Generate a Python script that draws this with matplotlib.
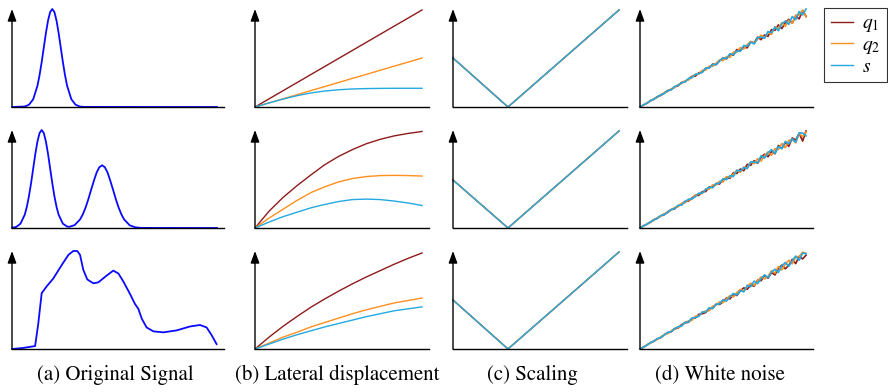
import matplotlib.pyplot as plt

plt.rcParams['font.family'] = ['STIXGeneral', 'Liberation Serif', 'DejaVu Serif']
plt.rcParams['mathtext.fontset'] = 'stix'

captions = ['(a) Original Signal', '(b) Lateral displacement', '(c) Scaling', '(d) White noise']
series_names = ['$q_1$', '$q_2$', '$s$']
series_colors = ['#8e1b1b', '#ff8f1f', '#22a9e1']
signal_color = '#0a0aff'

# (a) original signals
sig1_x = [0, 6, 8, 10, 12, 13, 14, 15, 16, 17, 18, 19, 20, 21, 22, 23, 24, 25, 26, 28, 30, 32, 34, 96.7]
sig1_y = [0, .005, .023, .079, .216, .325, .458, .607, .755, .882, .969, 1.0, .969, .882, .755, .607,
          .458, .325, .216, .079, .023, .005, .001, 0]

sig2_x = [0, 2, 4, 6, 7, 8, 9, 10, 11, 12, 13, 14, 15, 16, 17, 18, 19, 20, 21, 22, 24, 26, 27,
          29.5, 32.1, 33.4, 34.7, 36, 37.3, 38.6, 39.9, 41.2, 42.5, 43.8, 45.1, 46.4, 47.7, 49,
          50.3, 51.6, 52.9, 55.5, 58.1, 61, 96.7]
sig2_y = [.002, .011, .044, .135, .216, .325, .458, .607, .755, .882, .969, 1.0, .969, .882, .755,
          .607, .458, .325, .216, .135, .044, .015, .012, .029, .087, .139, .208, .293, .388, .48,
          .565, .62, .64, .62, .565, .48, .388, .293, .208, .139, .087, .028, .007, .001, 0]

sig3_x = [0, 5, 10.9, 12.4, 14, 16.4, 19.5, 23.4, 26.6, 28.9, 30.8, 32.1, 33.6, 35.5, 38.4, 40.7,
          44.7, 47.8, 50.2, 52.5, 55.7, 58, 59.6, 61.2, 63.5, 66.7, 71.4, 77.7, 84, 88.7, 91.8,
          94.2, 96.5]
sig3_y = [0, .01, .03, .26, .57, .64, .72, .855, .96, 1.0, 1.0, .96, .81, .71, .67, .68, .75, .80,
          .77, .69, .56, .46, .41, .31, .22, .18, .17, .19, .23, .245, .22, .14, .05]

# (b) lateral displacement
disp_x = [0, 8, 16, 24, 32, 40, 48, 56, 64, 72, 80, 88, 96]
disp1_q1 = [0, .0825, .165, .2475, .33, .4125, .495, .5775, .66, .7425, .825, .9075, .99]
disp1_q2 = [0, .042, .083, .125, .167, .208, .25, .292, .333, .375, .417, .458, .50]
disp1_s = [0, .041, .080, .115, .143, .163, .176, .184, .188, .190, .191, .191, .191]
disp2_q1 = [0, .17, .31, .43, .54, .645, .73, .80, .86, .905, .94, .965, .985]
disp2_q2 = [0, .10, .19, .28, .36, .42, .47, .505, .525, .535, .537, .535, .53]
disp2_s = [0, .06, .115, .16, .205, .24, .27, .29, .295, .29, .275, .255, .23]
disp3_q1 = [0, .12, .23, .33, .425, .51, .59, .665, .735, .80, .865, .925, .98]
disp3_q2 = [0, .06, .12, .17, .225, .27, .315, .36, .40, .435, .47, .495, .52]
disp3_s = [0, .05, .10, .145, .185, .225, .26, .295, .33, .36, .39, .41, .43]

# (c) scaling (q1, q2 and s coincide)
scale_x = [0, 31.6, 95.4]
scale1_y = [.50, 0, .99]
scale2_y = [.49, 0, .99]
scale3_y = [.50, 0, .99]

# (d) white noise
noise_x = list(range(0, 97, 2))
noise1_q1 = [0, .021, .038, .064, .080, .105, .117, .143, .168, .177, .205, .216, .250, .259, .285, .313,
             .315, .349, .354, .396, .400, .438, .432, .471, .501, .491, .535, .529, .586, .578, .610,
             .604, .664, .655, .713, .687, .735, .721, .790, .782, .838, .800, .860, .895, .855, .927,
             .899, .985, .925]
noise1_q2 = [0, .019, .042, .059, .084, .098, .123, .146, .158, .186, .197, .229, .239, .269, .275, .307,
             .332, .336, .375, .378, .417, .414, .448, .480, .473, .514, .507, .561, .560, .607, .592,
             .636, .670, .649, .693, .734, .705, .761, .740, .818, .798, .861, .824, .887, .853, .939,
             .939, .989, .920]
noise1_s = [0, .021, .039, .064, .078, .103, .126, .137, .165, .176, .209, .220, .247, .255, .289, .299,
            .334, .340, .355, .397, .398, .436, .432, .473, .499, .495, .543, .533, .572, .568, .628,
            .620, .662, .643, .707, .715, .701, .771, .756, .816, .778, .848, .878, .843, .923, .891,
            .974, .939, 1.0]
noise2_q1 = [0, .022, .039, .058, .085, .099, .125, .135, .165, .187, .195, .228, .238, .272, .275, .305,
             .334, .333, .371, .372, .419, .418, .454, .449, .497, .511, .507, .565, .556, .602, .584,
             .650, .640, .687, .661, .721, .753, .727, .778, .758, .842, .812, .872, .833, .919, .897,
             .967, .887, .990]
noise2_q2 = [0, .019, .042, .062, .077, .106, .119, .147, .157, .184, .210, .216, .252, .258, .287, .293,
             .335, .349, .352, .398, .396, .440, .440, .477, .469, .525, .517, .551, .588, .568, .622,
             .612, .672, .657, .707, .683, .739, .777, .742, .810, .800, .862, .818, .895, .901, .869,
             .965, .931, .980]
noise2_s = [0, .021, .038, .063, .083, .097, .127, .138, .158, .189, .200, .230, .234, .267, .293, .297,
            .319, .356, .356, .394, .416, .410, .452, .459, .503, .493, .535, .525, .590, .582, .618,
            .606, .674, .673, .665, .737, .713, .767, .800, .760, .832, .808, .884, .859, .911, .875,
            .971, .969, .940]
noise3_q1 = [0, .018, .041, .064, .078, .103, .116, .145, .166, .176, .205, .214, .248, .266, .273, .311,
             .317, .354, .360, .372, .414, .416, .458, .455, .481, .521, .511, .555, .546, .594, .624,
             .610, .652, .641, .703, .697, .751, .721, .780, .756, .822, .856, .818, .855, .915, .871,
             .947, .919, .958]
noise3_q2 = [0, .021, .041, .059, .085, .098, .124, .147, .157, .184, .210, .218, .236, .273, .285, .293,
             .335, .338, .377, .386, .390, .438, .448, .481, .473, .511, .545, .531, .576, .608, .590,
             .638, .672, .649, .695, .735, .715, .741, .798, .774, .842, .806, .866, .905, .869, .937,
             .943, .987, .975]
noise3_s = [0, .020, .038, .065, .079, .106, .117, .143, .169, .176, .208, .227, .234, .271, .277, .315,
            .321, .333, .378, .378, .420, .412, .456, .461, .503, .489, .533, .567, .552, .596, .584,
            .650, .636, .693, .667, .719, .757, .725, .784, .814, .780, .850, .882, .843, .899, .949,
            .905, .979, .972]

W, H = 888, 392
col_left = [12, 255, 453, 640]
col_right = [224, 429, 627, 813]
row_top = [9, 130, 251]
row_bottom = [107, 228, 349]
caption_x = [115, 337, 532, 720]


def setup_axes(ax):
    for side in ['top', 'right', 'left']:
        ax.spines[side].set_visible(False)
    ax.spines['bottom'].set_linewidth(1.0)
    ax.set_xticks([])
    ax.set_yticks([])
    ax.set_xlim(0, 100)
    ax.set_ylim(0, 1)
    ax.patch.set_alpha(0)
    ax.annotate('', xy=(0, 1), xytext=(0, 0), xycoords='axes fraction',
                arrowprops=dict(arrowstyle='-|>,head_length=0.6,head_width=0.22',
                                color='black', lw=1.0, mutation_scale=12,
                                shrinkA=0, shrinkB=0))


def plot_series(ax, x, ys, lw=1.0):
    lines = []
    for y, c in zip(ys, series_colors):
        l, = ax.plot(x, y, color=c, lw=lw, clip_on=False)
        lines.append(l)
    return lines


fig = plt.figure(figsize=(W / 100, H / 100), dpi=100)

signals = [(sig1_x, sig1_y), (sig2_x, sig2_y), (sig3_x, sig3_y)]
disps = [(disp1_q1, disp1_q2, disp1_s), (disp2_q1, disp2_q2, disp2_s), (disp3_q1, disp3_q2, disp3_s)]
scales = [scale1_y, scale2_y, scale3_y]
noises = [(noise1_q1, noise1_q2, noise1_s), (noise2_q1, noise2_q2, noise2_s),
          (noise3_q1, noise3_q2, noise3_s)]

handles = None
for r in range(3):
    axs = []
    for c in range(4):
        rect = [col_left[c] / W, 1 - row_bottom[r] / H,
                (col_right[c] - col_left[c]) / W, (row_bottom[r] - row_top[r]) / H]
        ax = fig.add_axes(rect)
        setup_axes(ax)
        axs.append(ax)

    sx, sy = signals[r]
    axs[0].plot(sx, sy, color=signal_color, lw=1.3, clip_on=False)
    lines = plot_series(axs[1], disp_x, disps[r])
    plot_series(axs[2], scale_x, [scales[r]] * 3)
    plot_series(axs[3], noise_x, noises[r], lw=1.2)
    if handles is None:
        handles = lines

for c in range(4):
    fig.text(caption_x[c] / W, 1 - 380 / H, captions[c], ha='center', va='baseline', fontsize=15)

leg = fig.legend(handles, series_names, loc='upper right', bbox_to_anchor=(0.999, 1 - 8 / H),
                 fontsize=14, frameon=True, fancybox=False, edgecolor='black',
                 handlelength=1.15, handletextpad=0.45, borderpad=0.35, labelspacing=0.1,
                 borderaxespad=0)
leg.get_frame().set_linewidth(0.8)

fig.savefig('out.png', dpi=100)
